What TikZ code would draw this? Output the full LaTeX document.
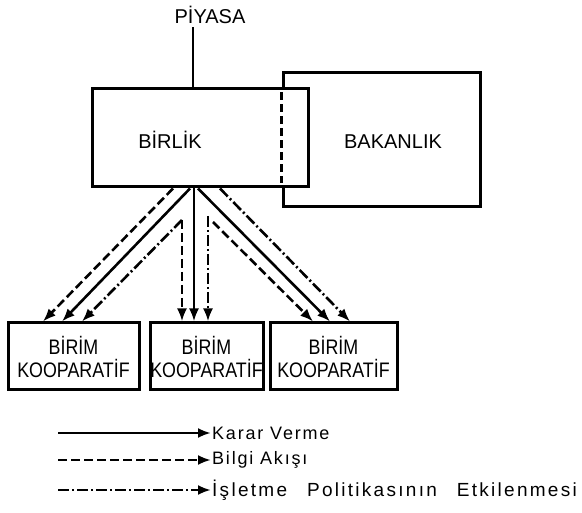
\documentclass[tikz,border=0pt]{standalone}
\usepackage{fontspec}
\setmainfont{Liberation Sans}
\newfontfamily\boxfont{Liberation Sans}[FakeStretch=0.85]
\newfontfamily\legfont{Liberation Sans}[LetterSpace=10]
\newfontfamily\legfontw{Liberation Sans}[LetterSpace=12]
\usetikzlibrary{arrows.meta}
\tikzset{
  box/.style={draw, line width=3pt, inner sep=0pt},
  bigtext/.style={font=\fontsize{20}{24}\selectfont},
  koop/.style={box, minimum height=67pt, align=center, font=\boxfont\fontsize{21}{23}\selectfont},
  karar/.style={line width=2.6pt, -{Latex[length=13pt,width=10pt]}},
  bilgi/.style={karar, dash pattern=on 9pt off 4pt},
  etki/.style={karar, dash pattern=on 11pt off 3pt on 2pt off 3pt},
  legtext/.style={anchor=west, inner sep=1pt},
}
\begin{document}
\begin{tikzpicture}[x=1pt,y=-1pt]
  \useasboundingbox (0,0) rectangle (582,513);
  % top part
  \node[bigtext] (piyasa) at (210,15) {PİYASA};
  \node[box, minimum width=197pt, minimum height=134pt] (bakanlik) at (381.5,140) {};
  \node[bigtext] (bakanlik-t) at (393,142) {BAKANLIK};
  \node[box, fill=white, minimum width=216pt, minimum height=98pt] (birlik) at (200,138) {};
  \node[bigtext] (birlik-t) at (170,140) {BİRLİK};
  \draw[line width=3pt, dash pattern=on 8pt off 4pt, shorten >=5pt, shorten <=5pt]
    (bakanlik.west |- birlik.north) -- (bakanlik.west |- birlik.south);
  \coordinate (tophub) at ([xshift=-7pt]birlik.north);
  \draw[line width=2.6pt] (tophub |- piyasa.south) -- (tophub);

  % birim kooperatifler
  \node[koop, minimum width=131pt] (k1) at (73.5,356.5) {BİRİM\\KOOPARATİF};
  \node[koop, minimum width=113pt] (k2) at (206.5,356.5) {BİRİM\\KOOPARATİF};
  \node[koop, minimum width=127pt] (k3) at (333.5,356.5) {BİRİM\\KOOPARATİF};

  \coordinate (hub) at ([xshift=-6pt]birlik.south);
  \coordinate (lp) at (182,220);
  \coordinate (rp) at (208,216);
  \coordinate (rq) at (213,222);

  % left
  \draw[bilgi] ([xshift=-27pt]birlik.south) -- ([xshift=-30.5pt]k1.north);
  \draw[karar] ([xshift=-10pt]birlik.south) -- ([xshift=-11.5pt]k1.north);
  \draw[etki] (lp) -- ([xshift=8.5pt]k1.north);
  % middle
  \draw[bilgi] (lp) -- (lp |- k2.north);
  \draw[karar] (hub) -- (hub |- k2.north);
  \draw[etki] (rp) -- (rp |- k2.north);
  % right
  \draw[bilgi] (rq) -- ([xshift=-20.5pt]k3.north);
  \draw[karar] ([xshift=-2pt]birlik.south) -- ([xshift=-3.5pt]k3.north);
  \draw[etki] ([xshift=20pt]birlik.south) -- ([xshift=16.5pt]k3.north);

  % legend
  \node[legtext, font=\legfont\fontsize{18}{20}\selectfont] (l-karar) at (211,433) {Karar Verme};
  \node[legtext, font=\legfont\fontsize{18}{20}\selectfont] (l-bilgi) at (211,460) {Bilgi Akışı};
  \node[legtext, font=\legfontw\fontsize{19}{20}\selectfont] (l-etki) at (211,490)
    {İşletme\hspace{20pt}Politikasının\hspace{20pt}Etkilenmesi};
  \coordinate (s-karar) at (58,433);
  \coordinate (s-bilgi) at (58,460);
  \coordinate (s-etki) at (58,490);
  \draw[karar] (s-karar) -- (l-karar.west);
  \draw[bilgi] (s-bilgi) -- (l-bilgi.west);
  \draw[etki] (s-etki) -- (l-etki.west);
\end{tikzpicture}
\end{document}
